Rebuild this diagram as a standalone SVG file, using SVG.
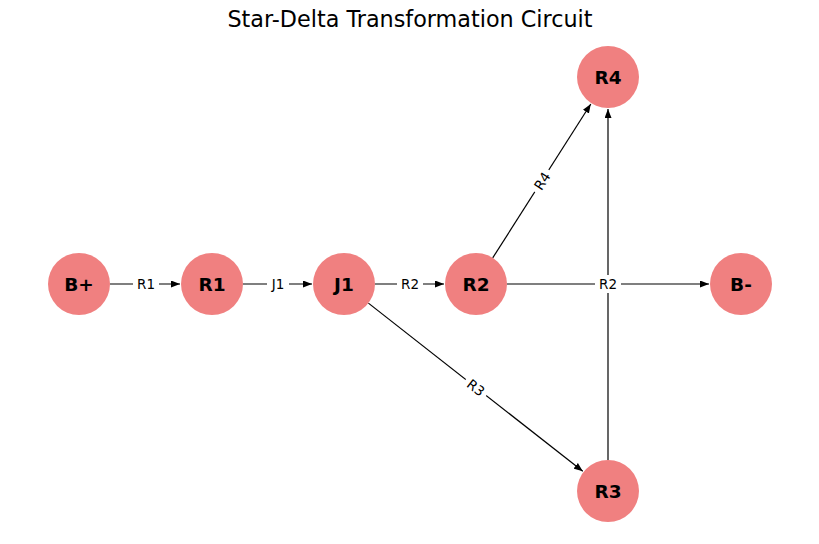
<svg xmlns="http://www.w3.org/2000/svg" width="819" height="544" viewBox="0 0 819 544">
<style>
.node{fill:#f08080}
.nl{font-family:"DejaVu Sans",sans-serif;font-size:18.5px;font-weight:bold;fill:#000;text-anchor:middle;dominant-baseline:central}
.e{stroke:#000;stroke-width:1.2;fill:none;marker-end:url(#ah)}
.el{font-family:"DejaVu Sans",sans-serif;font-size:13.5px;fill:#000;text-anchor:middle;dominant-baseline:central}
.lb{fill:#fff}
</style>
<defs>
<marker id="ah" viewBox="0 0 9 7" refX="9" refY="3.5" markerWidth="9" markerHeight="7" markerUnits="userSpaceOnUse" orient="auto">
<path d="M0,0 L9,3.5 L0,7 Z" fill="#000"/>
</marker>
</defs>
<rect width="819" height="544" fill="#fff"/>
<text x="410" y="19" font-family="DejaVu Sans, sans-serif" font-size="22.3" text-anchor="middle" dominant-baseline="central">Star-Delta Transformation Circuit</text>
<g id="connectors">
<line class="e" x1="110" y1="284" x2="180" y2="284"/>
<line class="e" x1="243" y1="284" x2="312" y2="284"/>
<line class="e" x1="375" y1="284" x2="444" y2="284"/>
<line class="e" x1="507" y1="284" x2="709" y2="284"/>
<line class="e" x1="492.7" y1="257.9" x2="590.8" y2="104"/>
<line class="e" x1="368.4" y1="303.1" x2="582.8" y2="471.3"/>
<line class="e" x1="608" y1="460" x2="608" y2="109"/>
<g>
<rect class="lb" x="133" y="275" width="26" height="18"/><text class="el" x="146" y="284">R1</text>
<rect class="lb" x="267" y="275" width="22" height="18"/><text class="el" x="278" y="284">J1</text>
<rect class="lb" x="397" y="275" width="26" height="18"/><text class="el" x="410" y="284">R2</text>
<rect class="lb" x="595" y="275" width="26" height="18"/><text class="el" x="608" y="284">R2</text>
<g transform="translate(542,181) rotate(-57.5)"><rect class="lb" x="-13" y="-9" width="26" height="18"/><text class="el" x="0" y="0">R4</text></g>
<g transform="translate(476,387.5) rotate(38.1)"><rect class="lb" x="-13" y="-9" width="26" height="18"/><text class="el" x="0" y="0">R3</text></g>
</g>
</g>
<g id="n-Bp"><circle class="node" cx="79" cy="284" r="31"/><text class="nl" x="79" y="284">B+</text></g>
<g id="n-R1"><circle class="node" cx="212" cy="284" r="31"/><text class="nl" x="212" y="284">R1</text></g>
<g id="n-J1"><circle class="node" cx="344" cy="284" r="31"/><text class="nl" x="344" y="284">J1</text></g>
<g id="n-R2"><circle class="node" cx="476" cy="284" r="31"/><text class="nl" x="476" y="284">R2</text></g>
<g id="n-Bm"><circle class="node" cx="741" cy="284" r="31"/><text class="nl" x="741" y="284">B-</text></g>
<g id="n-R4"><circle class="node" cx="608" cy="77" r="31"/><text class="nl" x="608" y="77">R4</text></g>
<g id="n-R3"><circle class="node" cx="608" cy="491" r="31"/><text class="nl" x="608" y="491">R3</text></g>
</svg>
